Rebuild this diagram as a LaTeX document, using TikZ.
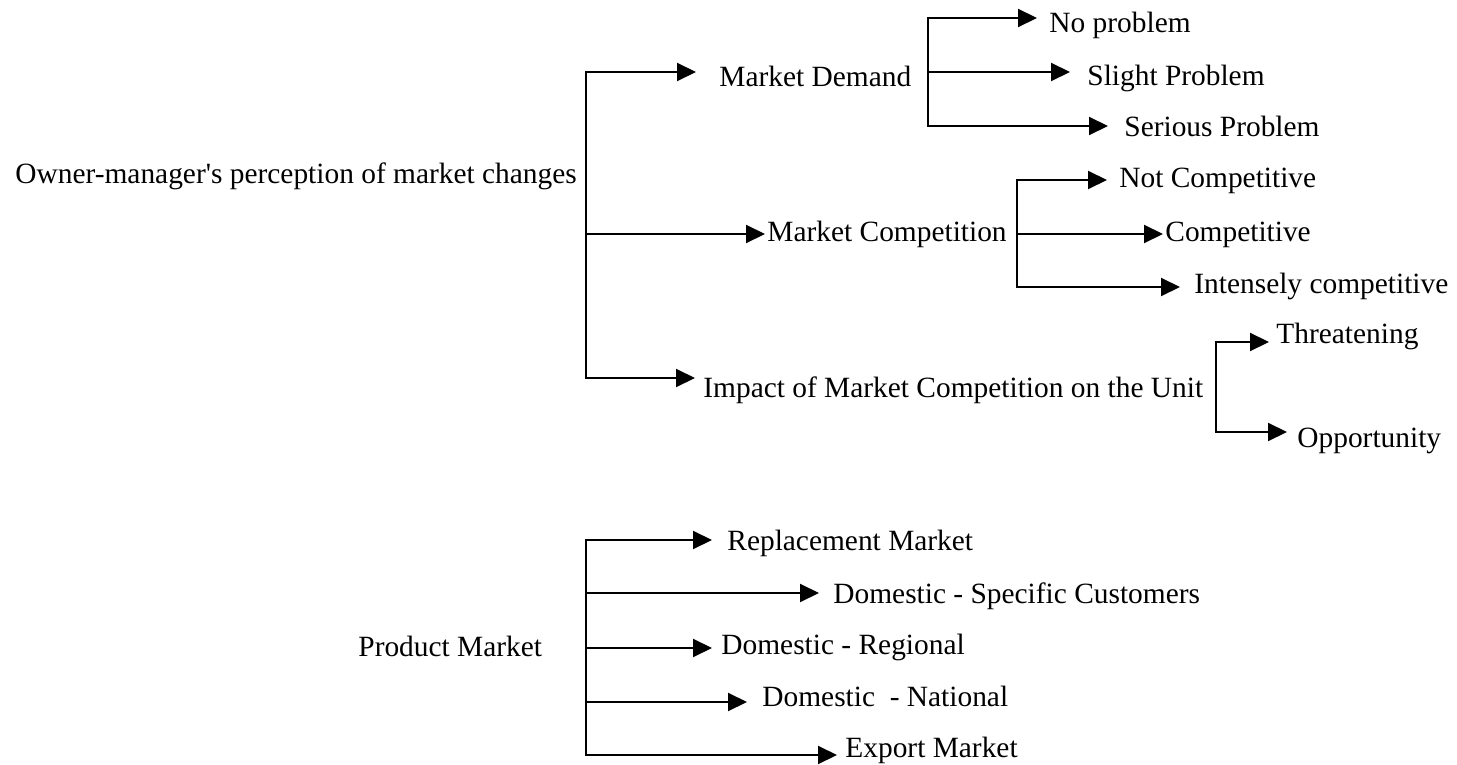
\documentclass[tikz,border=0pt]{standalone}
\usepackage{fontspec}
\setmainfont{Liberation Serif}[Ligatures=TeXOff]
\usetikzlibrary{arrows.meta}
\tikzset{
  lbl/.style={anchor=base west, inner sep=0pt, font=\fontsize{14.7}{17}\selectfont},
  arm/.style={line width=1pt, -{Triangle[length=9.5pt, width=9pt]}}
}
\begin{document}
\begin{tikzpicture}[x=0.5pt, y=-0.5pt]
      \useasboundingbox (0,0) rectangle (1457,765);
      % labels
      \draw
        (15,184) node[lbl] (own){Owner-manager\textquotesingle s perception of market changes}
        (719,87) node[lbl] (md){Market Demand}
        (767,242) node[lbl] (mc){Market Competition}
        (703,397) node[lbl] (im){Impact of Market Competition on the Unit}
        (1049,33) node[lbl] (np){No problem}
        (1087,86) node[lbl] (sp){Slight Problem}
        (1124,137) node[lbl] (sep){Serious Problem}
        (1119,188) node[lbl] (nc){Not Competitive}
        (1165,242) node[lbl] (co){Competitive}
        (1194,293) node[lbl] (ic){Intensely competitive}
        (1276,343) node[lbl] (th){Threatening}
        (1297,447) node[lbl] (op){Opportunity}
        (358,656) node[lbl] (pm){Product Market}
        (727,550) node[lbl] (rm){Replacement Market}
        (833,603) node[lbl] (ds){Domestic - Specific Customers}
        (721,654) node[lbl] (dr){Domestic - Regional}
        (762,706) node[lbl] (dn){Domestic \ - National}
        (845,757) node[lbl] (em){Export Market};
      % bracket joints
      \coordinate (jown) at (586,234);
      \coordinate (jmd) at (928,72);
      \coordinate (jmc) at (1017,234);
      \coordinate (jim) at (1216,387);
      \coordinate (jpm) at (586,648);
      % arrow ends
      \coordinate (tmd) at (696,72);
      \coordinate (tmc) at (765,234);
      \coordinate (tim) at (695,378);
      \coordinate (tnp) at (1037,18);
      \coordinate (tsp) at (1070,72);
      \coordinate (tsep) at (1108,126);
      \coordinate (tnc) at (1107,180);
      \coordinate (tco) at (1163,234);
      \coordinate (tic) at (1180,287);
      \coordinate (tth) at (1269,342);
      \coordinate (top) at (1287,432);
      \coordinate (trm) at (712,540);
      \coordinate (tds) at (819,593);
      \coordinate (tdr) at (712,648);
      \coordinate (tdn) at (747,702);
      \coordinate (tem) at (837,755);
      \begin{scope}[arm]
        \draw (jown) |- (tmd);
        \draw (jown) |- (tmc);
        \draw (jown) |- (tim);
        \draw (jmd) |- (tnp);
        \draw (jmd) |- (tsp);
        \draw (jmd) |- (tsep);
        \draw (jmc) |- (tnc);
        \draw (jmc) |- (tco);
        \draw (jmc) |- (tic);
        \draw (jim) |- (tth);
        \draw (jim) |- (top);
        \draw (jpm) |- (trm);
        \draw (jpm) |- (tds);
        \draw (jpm) |- (tdr);
        \draw (jpm) |- (tdn);
        \draw (jpm) |- (tem);
      \end{scope}
    \end{tikzpicture}
\end{document}
